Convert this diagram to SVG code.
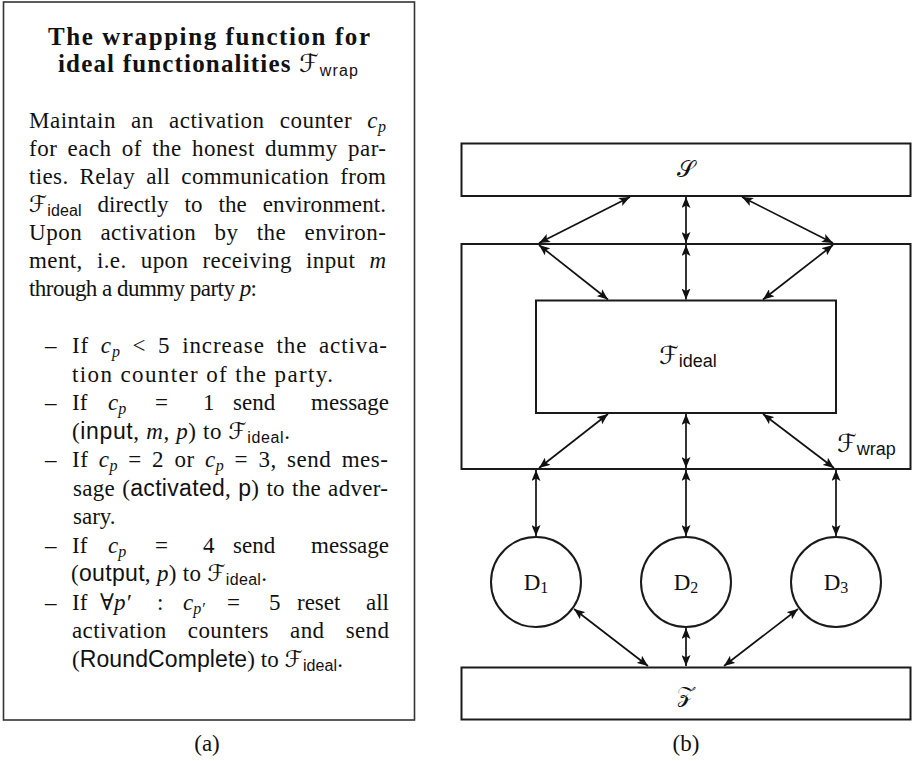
<svg xmlns="http://www.w3.org/2000/svg" width="912" height="761" viewBox="0 0 912 761">
<defs>
<style>
.t{font-family:"Liberation Serif","DejaVu Serif",serif;font-size:23px;fill:#111}
.b{font-weight:bold;font-size:25px}
.mi{font-style:italic}
.ss{font-family:"Liberation Sans","DejaVu Sans",sans-serif;font-weight:normal}
.sub{font-size:16px}
.cal{font-family:"DejaVu Sans","DejaVu Serif","Noto Sans",serif;font-style:normal;font-weight:normal}
.lbl{font-size:25px}
.lbl .sub{font-size:18px}
.box{fill:#fff;stroke:#1a1a1a;stroke-width:2}
.con line{stroke:#111;stroke-width:1.7;marker-start:url(#ah);marker-end:url(#ah)}
</style>
<marker id="ah" viewBox="0 0 11 9" refX="11" refY="4.5" markerWidth="11" markerHeight="9" markerUnits="userSpaceOnUse" orient="auto-start-reverse"><path d="M0,0 L11,4.5 L0,9 L2.5,4.5 z" fill="#111"/></marker>
</defs>
<rect width="912" height="761" fill="#fff"/>

<g id="panel-a">
<rect x="3.5" y="2" width="411" height="718" fill="none" stroke="#333" stroke-width="1.6"/>
<text class="t b" x="48" y="45" textLength="322">The wrapping function for</text>
<text class="t b" x="58" y="72" textLength="300">ideal functionalities <tspan class="cal">ℱ</tspan><tspan class="ss sub" dy="4">wrap</tspan></text>

<text class="t" x="29" y="128" word-spacing="9" textLength="357">Maintain an activation counter <tspan class="mi">c</tspan><tspan class="mi sub" dy="4">p</tspan></text>
<text class="t" x="29" y="156" word-spacing="4" textLength="357">for each of the honest dummy par-</text>
<text class="t" x="29" y="184" word-spacing="5" textLength="357">ties. Relay all communication from</text>
<text class="t" x="29" y="212" word-spacing="10" textLength="357"><tspan class="cal">ℱ</tspan><tspan class="ss sub" dy="4">ideal</tspan><tspan dy="-4"> directly to the environment.</tspan></text>
<text class="t" x="29" y="240" word-spacing="12" textLength="357">Upon activation by the environ-</text>
<text class="t" x="29" y="268" word-spacing="8" textLength="357">ment, i.e. upon receiving input <tspan class="mi">m</tspan></text>
<text class="t" x="29" y="296" textLength="228">through a dummy party <tspan class="mi">p</tspan>:</text>

<text class="t" x="45" y="353">–</text>
<text class="t" x="72" y="353" word-spacing="5" textLength="315">If <tspan class="mi">c</tspan><tspan class="mi sub" dy="4">p</tspan><tspan dy="-4"> &lt; 5 increase the activa-</tspan></text>
<text class="t" x="72" y="381.5" textLength="261">tion counter of the party.</text>

<text class="t" x="45" y="410">–</text>
<text class="t" y="410"><tspan x="72">If</tspan><tspan class="mi" x="108">c</tspan><tspan class="mi sub" dy="4">p</tspan><tspan x="155" dy="-4">=</tspan><tspan x="203">1</tspan><tspan x="233">send</tspan></text>
<text class="t" x="389" y="410" text-anchor="end">message</text>
<text class="t" x="72" y="438.5" textLength="218">(<tspan class="ss">input</tspan>, <tspan class="mi">m</tspan>, <tspan class="mi">p</tspan>) to <tspan class="cal">ℱ</tspan><tspan class="ss sub" dy="4">ideal</tspan><tspan dy="-4">.</tspan></text>

<text class="t" x="45" y="467">–</text>
<text class="t" x="72" y="467" word-spacing="4" textLength="316">If <tspan class="mi">c</tspan><tspan class="mi sub" dy="4">p</tspan><tspan dy="-4"> = 2 or </tspan><tspan class="mi">c</tspan><tspan class="mi sub" dy="4">p</tspan><tspan dy="-4"> = 3, send mes-</tspan></text>
<text class="t" x="73" y="495.5" word-spacing="1" textLength="315">sage (<tspan class="ss">activated</tspan>, <tspan class="ss">p</tspan>) to the adver-</text>
<text class="t" x="73" y="524">sary.</text>

<text class="t" x="45" y="552.5">–</text>
<text class="t" y="552.5"><tspan x="72">If</tspan><tspan class="mi" x="108">c</tspan><tspan class="mi sub" dy="4">p</tspan><tspan x="155" dy="-4">=</tspan><tspan x="203">4</tspan><tspan x="233">send</tspan></text>
<text class="t" x="389" y="552.5" text-anchor="end">message</text>
<text class="t" x="71" y="581" textLength="196">(<tspan class="ss">output</tspan>, <tspan class="mi">p</tspan>) to <tspan class="cal">ℱ</tspan><tspan class="ss sub" dy="4">ideal</tspan><tspan dy="-4">.</tspan></text>

<text class="t" x="45" y="609.5">–</text>
<text class="t" y="609.5"><tspan x="72">If</tspan><tspan x="100">∀</tspan><tspan class="mi">p′</tspan><tspan x="157">:</tspan><tspan class="mi" x="183">c</tspan><tspan class="mi sub" dy="4">p′</tspan><tspan x="227" dy="-4">=</tspan><tspan x="269">5</tspan><tspan x="297">reset</tspan></text>
<text class="t" x="389" y="609.5" text-anchor="end">all</text>
<text class="t" x="72" y="638" word-spacing="15" textLength="317">activation counters and send</text>
<text class="t" x="72" y="666.5" textLength="271">(<tspan class="ss">RoundComplete</tspan>) to <tspan class="cal">ℱ</tspan><tspan class="ss sub" dy="4">ideal</tspan><tspan dy="-4">.</tspan></text>
</g>
<text class="t" x="207" y="751" text-anchor="middle">(a)</text>

<g id="S">
<rect class="box" x="461.5" y="143.5" width="449" height="52.5"/>
<text class="t" x="686" y="177" text-anchor="middle" font-size="25"><tspan class="cal">𝒮</tspan></text>
</g>
<g id="Fwrap">
<rect class="box" x="461.5" y="244" width="449" height="225"/>
<text class="t lbl" x="837" y="452"><tspan class="cal">ℱ</tspan><tspan class="ss sub" dy="3">wrap</tspan></text>
</g>
<g id="Fideal">
<rect class="box" x="536" y="300.5" width="300" height="112.5"/>
<text class="t lbl" x="659" y="364"><tspan class="cal">ℱ</tspan><tspan class="ss sub" dy="3">ideal</tspan></text>
</g>
<g id="D1">
<circle class="box" cx="536" cy="582" r="45"/>
<text class="t" x="536" y="590" text-anchor="middle" font-size="24">D<tspan class="sub" dy="3" font-size="17">1</tspan></text>
</g>
<g id="D2">
<circle class="box" cx="686" cy="582" r="45"/>
<text class="t" x="686" y="590" text-anchor="middle" font-size="24">D<tspan class="sub" dy="3" font-size="17">2</tspan></text>
</g>
<g id="D3">
<circle class="box" cx="836" cy="582" r="45"/>
<text class="t" x="836" y="590" text-anchor="middle" font-size="24">D<tspan class="sub" dy="3" font-size="17">3</tspan></text>
</g>
<g id="Z">
<rect class="box" x="461.5" y="667.5" width="449" height="52"/>
<text class="t" x="686" y="702" text-anchor="middle" font-size="25"><tspan class="cal">𝒵</tspan></text>
</g>
<text class="t" x="686" y="751" text-anchor="middle">(b)</text>

<g id="connectors" class="con">
<line x1="630" y1="197" x2="539" y2="243"/>
<line x1="686" y1="197" x2="686" y2="243"/>
<line x1="742" y1="197" x2="833" y2="243"/>
<line x1="539" y1="245" x2="608" y2="299.5"/>
<line x1="686" y1="245" x2="686" y2="299.5"/>
<line x1="833" y1="245" x2="763" y2="299.5"/>
<line x1="608" y1="414" x2="539" y2="468"/>
<line x1="686" y1="414" x2="686" y2="468"/>
<line x1="763" y1="414" x2="834" y2="468"/>
<line x1="536" y1="470" x2="536" y2="536"/>
<line x1="686" y1="470" x2="686" y2="536"/>
<line x1="836" y1="470" x2="836" y2="536"/>
<line x1="574" y1="609" x2="648" y2="666"/>
<line x1="686" y1="628" x2="686" y2="666"/>
<line x1="798" y1="609" x2="724" y2="666"/>
</g>
</svg>
